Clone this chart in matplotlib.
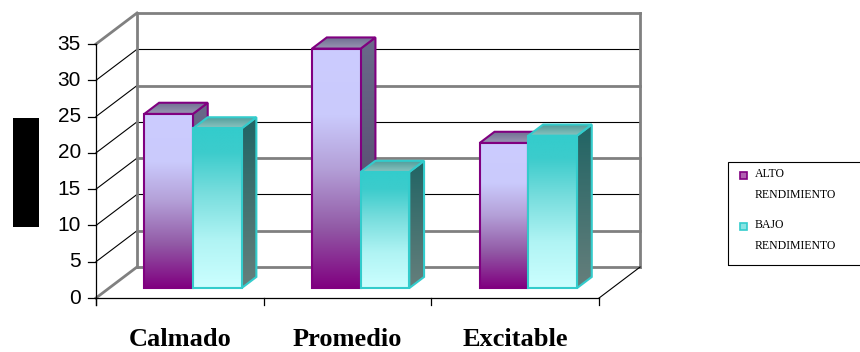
import numpy as np
import matplotlib
matplotlib.use("Agg")
import matplotlib.pyplot as plt
from matplotlib.patches import Polygon, Rectangle
from matplotlib.colors import LinearSegmentedColormap

plt.rcParams['font.family'] = ['Liberation Sans', 'DejaVu Sans']

# datos
categorias = ['Calmado', 'Promedio', 'Excitable']
alto = [24, 33, 20]
bajo = [22, 16, 21]
series = ['ALTO\nRENDIMIENTO', 'BAJO\nRENDIMIENTO']
yticks = [0, 5, 10, 15, 20, 25, 30, 35]

# escala de pixeles para el falso 3D
W, H = 860, 352
PX_X = 167.7      # px por categoria
PX_Y = 7.257      # px por unidad
X0, Y0 = 96, 298  # origen del plano frontal (px desde arriba)
DX = 41 / PX_X    # profundidad del piso en unidades x
DY = 31 / PX_Y    # profundidad del piso en unidades y
F1, F2 = 0.32, 0.68   # profundidad de las barras
ANCHO = 0.29

fig = plt.figure(figsize=(W / 100, H / 100), dpi=100)
ax = fig.add_axes([0, 0, 1, 1])
ax.axis('off')


def p(u, v, f):
    return (u + f * DX, v + f * DY)


def cara(pts, stops, edge, lw, z):
    poly = Polygon(pts, closed=True, facecolor='none', edgecolor=edge,
                   lw=lw, zorder=z + 0.5, joinstyle='miter')
    ax.add_patch(poly)
    xs, ys = zip(*pts)
    cmap = LinearSegmentedColormap.from_list('g', stops)
    grad = np.linspace(0, 1, 256).reshape(-1, 1)
    im = ax.imshow(grad, extent=(min(xs), max(xs), min(ys), max(ys)),
                   origin='lower', cmap=cmap, aspect='auto', zorder=z,
                   interpolation='bilinear')
    im.set_clip_path(poly)


estilos = [
    dict(edge='#800080',
         front=[(0, '#800080'), (0.25, '#925AA6'), (0.5, '#B4A0D8'), (0.72, '#CACAFC'), (1, '#CCCCFF')],
         side=[(0, '#4E4064'), (1, '#6A6A8A')],
         top=[(0, '#9A98B4'), (1, '#6E6C90')]),
    dict(edge='#33CCCC',
         front=[(0, '#CCFFFF'), (0.3, '#B0F4F4'), (0.6, '#77DDDD'), (0.85, '#3CCCCC'), (1, '#33CCCC')],
         side=[(0, '#667F7C'), (1, '#206464')],
         top=[(0, '#8CC4C0'), (1, '#4C9A98')]),
]

# paredes y cuadricula
gris = '#808080'
for v in yticks:
    borde = v in (0, 35)
    ax.plot([0, DX], [v, v + DY], color=gris if borde else 'black',
            lw=2 if borde else 0.8, zorder=2)
    gruesa = v in (0, 35) or v % 10 == 5
    ax.plot([DX, 3 + DX], [v + DY, v + DY], color=gris if gruesa else 'black',
            lw=2 if gruesa else 0.8, zorder=1)
ax.plot([DX, DX], [DY, 35 + DY], color=gris, lw=2, zorder=2)
ax.plot([3 + DX, 3 + DX], [DY, 35 + DY], color=gris, lw=2, zorder=2)
ax.plot([3, 3 + DX], [0, DY], color='black', lw=0.8, zorder=2)

# ejes frontales
ax.plot([0, 0], [-7 / PX_Y, 35], color='black', lw=0.9, zorder=3)
ax.plot([0, 3], [0, 0], color='black', lw=0.9, zorder=3)
for v in yticks:
    ax.plot([-8 / PX_X, 0], [v, v], color='black', lw=0.9, zorder=3)
    ax.text(-15 / PX_X, v, str(v), ha='right', va='center', fontsize=15)
for i in range(4):
    ax.plot([i, i], [0, -7 / PX_Y], color='black', lw=0.9, zorder=3)
for i, c in enumerate(categorias):
    ax.text(i + 0.5, -41 / PX_Y, c, ha='center', va='center', fontsize=19,
            fontweight='bold', family=['Liberation Serif', 'DejaVu Serif'])

# barras
z = 10
for i in range(len(categorias)):
    for k, vals in enumerate([alto, bajo]):
        h = vals[i]
        u0 = i + 0.5 - ANCHO + k * ANCHO
        u1 = u0 + ANCHO
        e = estilos[k]
        lado = [p(u1, 0, F1), p(u1, 0, F2), p(u1, h, F2), p(u1, h, F1)]
        tapa = [p(u0, h, F1), p(u1, h, F1), p(u1, h, F2), p(u0, h, F2)]
        frente = [p(u0, 0, F1), p(u1, 0, F1), p(u1, h, F1), p(u0, h, F1)]
        cara(lado, e['side'], e['edge'], 1.5, z)
        cara(tapa, e['top'], e['edge'], 1.5, z + 1)
        cara(frente, e['front'], e['edge'], 1.5, z + 2)
        z += 3

ax.set_xlim(-X0 / PX_X, (W - X0) / PX_X)
ax.set_ylim(-(H - Y0) / PX_Y, Y0 / PX_Y)

# leyenda
fig.patches.append(Rectangle((728 / W, 1 - 265 / H), 150 / W, 103 / H,
                             transform=fig.transFigure, fill=False,
                             edgecolor='black', lw=0.8))
for k, nombre in enumerate(series):
    yc = 175 + k * 51
    fig.patches.append(Rectangle((740 / W, 1 - (yc + 3.5) / H), 7 / W, 7 / H,
                                 transform=fig.transFigure,
                                 facecolor=['#B060B0', '#88E4E4'][k],
                                 edgecolor=estilos[k]['edge'], lw=1.2))
    fig.text(755 / W, 1 - (yc - 7) / H, nombre, ha='left', va='top',
             fontsize=8.5, linespacing=1.95,
             family=['Liberation Serif', 'DejaVu Serif'])

# titulo del eje y (bloque negro)
fig.patches.append(Rectangle((13 / W, 1 - 227 / H), 26 / W, 109 / H,
                             transform=fig.transFigure, facecolor='black',
                             edgecolor='none'))

fig.savefig('out.png', dpi=100)
